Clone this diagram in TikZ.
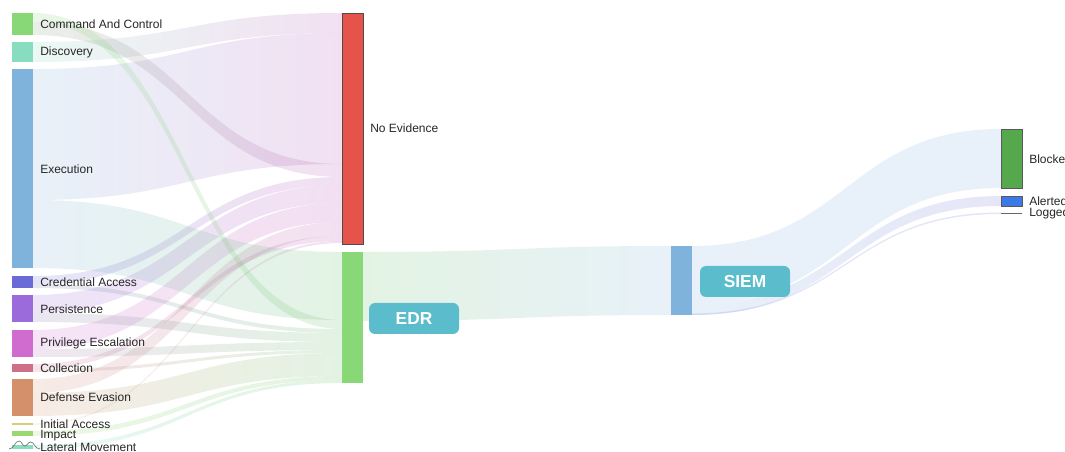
\documentclass[tikz,border=0pt]{standalone}
\usepackage{fontspec}
\setmainfont{Liberation Sans}
\usetikzlibrary{positioning}

\definecolor{cCaC}{HTML}{88D878}
\definecolor{cDisc}{HTML}{88DCC0}
\definecolor{cExec}{HTML}{7FB3DB}
\definecolor{cCred}{HTML}{6B6BD8}
\definecolor{cPers}{HTML}{9B6BDC}
\definecolor{cPriv}{HTML}{D06BD0}
\definecolor{cColl}{HTML}{D07088}
\definecolor{cDef}{HTML}{D4906B}
\definecolor{cInit}{HTML}{D4D07A}
\definecolor{cImp}{HTML}{9BD870}
\definecolor{cLat}{HTML}{88DCC0}
\definecolor{cNE}{HTML}{E5534B}
\definecolor{cEDR}{HTML}{88D878}
\definecolor{cSIEM}{HTML}{7FB3DB}
\definecolor{cBlk}{HTML}{55A84C}
\definecolor{cAlr}{HTML}{3B78E8}
\definecolor{cTag}{HTML}{5BBCCC}
\definecolor{tNE}{HTML}{B753B7}
\definecolor{tEDR}{HTML}{63BC63}
\definecolor{tAlr}{HTML}{7070D8}

% band: x1, top1, bot1, x2, top2, bot2, left colour, right colour
\newcommand{\band}[8]{%
  \shade[left color=#7, right color=#8, fill opacity=0.18]
    (#1,#2) .. controls ({(#1+#4)/2},#2) and ({(#1+#4)/2},#5) .. (#4,#5)
    -- (#4,#6) .. controls ({(#1+#4)/2},#6) and ({(#1+#4)/2},#3) .. (#1,#3) -- cycle;}
\newcommand{\lband}[6]{\band{33}{#1}{#2}{342}{#3}{#4}{#5}{#6}}

\begin{document}
\begin{tikzpicture}[x=0.75pt, y=-0.75pt,
  lbl/.style={anchor=west, inner sep=0pt, text=black!85, font=\fontsize{9}{9}\selectfont},
  tag/.style={fill=cTag, rounded corners=4.5pt, minimum width=67.5pt,
    minimum height=23.25pt, text=white, font=\bfseries\fontsize{13}{13}\selectfont}]
\useasboundingbox (0,0) rectangle (1065,452);

%Flujos a No Evidence
\lband{42}{62}{13}{33}{cDisc}{tNE}
\lband{69}{200}{33}{164}{cExec}{tNE}
\lband{22}{35}{164}{177}{cCaC!40!gray}{tNE}
\lband{276}{284}{177}{185}{cCred}{tNE}
\lband{295}{313}{185}{203}{cPers}{tNE}
\lband{330}{349}{203}{222}{cPriv}{tNE}
\lband{379}{393}{222}{236}{cDef}{tNE}
\lband{364}{369}{236}{241}{cColl}{tNE}
\lband{423.5}{425}{241}{243}{cInit}{tNE}

%Flujos a EDR
\lband{200}{268}{252}{320}{cExec}{tEDR}
\lband{13}{22}{320}{329}{cCaC}{tEDR}
\lband{284}{288}{329}{333}{cCred!50!gray}{tEDR}
\lband{313}{322}{333}{342}{cPers!50!gray}{tEDR}
\lband{349}{357}{342}{350}{cPriv!50!gray}{tEDR}
\lband{369}{372}{350}{353}{cColl}{tEDR}
\lband{393}{416}{353}{376}{cDef}{tEDR}
\lband{431}{436}{376}{380}{cImp}{tEDR}
\lband{445}{449}{380}{383}{cLat}{tEDR}

%EDR -> SIEM -> salida
\band{363}{252}{321}{671}{246}{315}{tEDR}{cSIEM}
\band{692}{246}{305}{1001}{129}{188}{cSIEM}{cSIEM}
\band{692}{305}{315}{1001}{196}{206}{cSIEM}{tAlr}
\band{692}{313.5}{315}{1001}{212.5}{214}{tAlr}{tAlr}

%Barras izquierda
\fill[cCaC] (12,13) rectangle (33,35);
\fill[cDisc] (12,42) rectangle (33,62);
\fill[cExec] (12,69) rectangle (33,268);
\fill[cCred] (12,276) rectangle (33,288);
\fill[cPers] (12,295) rectangle (33,322);
\fill[cPriv] (12,330) rectangle (33,357);
\fill[cColl] (12,364) rectangle (33,372);
\fill[cDef] (12,379) rectangle (33,416);
\fill[cInit] (12,423.5) rectangle (33,425);
\fill[cImp] (12,431) rectangle (33,436);
\fill[cLat] (12,445) rectangle (33,449);
\draw[black!55, line width=0.5pt] (9,449) .. controls (14,449) and (15,441) .. (19,441)
  .. controls (22,441) and (22,446) .. (25,446) .. controls (27,446) and (28,442) .. (31,442)
  .. controls (34,442) and (35,449) .. (40,449);

%Barras centro y derecha
\filldraw[fill=cNE, draw=black!70, line width=0.6pt] (342,13) rectangle (363,244);
\fill[cEDR] (342,252) rectangle (363,383);
\fill[cSIEM] (671,246) rectangle (692,315);
\filldraw[fill=cBlk, draw=black!65, line width=0.6pt] (1001,129) rectangle (1022,188);
\filldraw[fill=cAlr, draw=black!65, line width=0.6pt] (1001,196) rectangle (1022,206);
\draw[black!60, line width=0.6pt] (1001,213) -- (1022,213);

%Etiquetas
\node[lbl] (cac) at (40,24) {Command And Control};
\node[lbl] (disc) at (40,52.5) {Discovery};
\node[lbl] (exec) at (40,169) {Execution};
\node[lbl] (cred) at (40,282) {Credential Access};
\node[lbl] (pers) at (40,309) {Persistence};
\node[lbl] (priv) at (40,343.5) {Privilege Escalation};
\node[lbl] (coll) at (40,368) {Collection};
\node[lbl] (defev) at (40,397.5) {Defense Evasion};
\node[lbl] (init) at (40,424) {Initial Access};
\node[lbl] (imp) at (40,435.5) {Impact};
\node[lbl] (lat) at (40,447) {Lateral Movement};
\node[lbl] (noev) at (370,128.5) {No Evidence};
\node[lbl] (blk) at (1029,159) {Blocked};
\node[lbl] (alr) at (1029,201) {Alerted};
\node[lbl] (logd) at (1029,213.5) {Logged};

\node[tag] (edr) at (414,318.5) {EDR};
\node[tag] (siem) at (745,281.5) {SIEM};
\end{tikzpicture}
\end{document}
